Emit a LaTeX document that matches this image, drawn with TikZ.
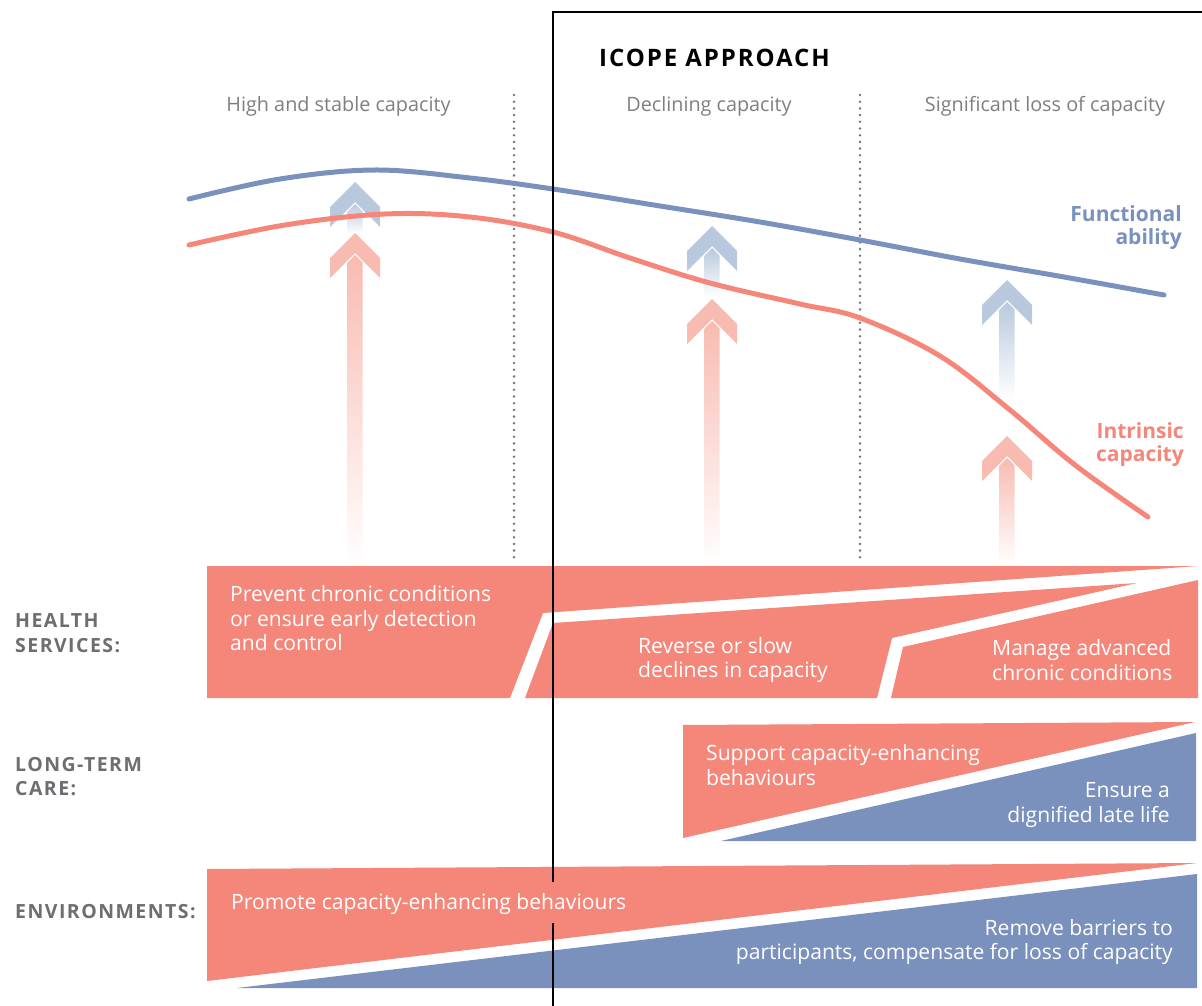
\documentclass[tikz,border=0pt]{standalone}
\usepackage{fontspec}
\setmainfont{Open Sans}
\definecolor{icred}{HTML}{F4877A}
\definecolor{icblue}{HTML}{7B91BD}
\definecolor{lred}{HTML}{F8BBB1}
\definecolor{lblue}{HTML}{B9C9DD}
\definecolor{lblgrey}{HTML}{6D6E71}
\definecolor{hdrgrey}{HTML}{7F7F7F}
\definecolor{dotgrey}{HTML}{777777}
\newcommand{\icarrow}[4]{%
  \shade[top color=#4, bottom color=white] (#1,#2+22) -- (#1+7.5,#2+29.5) -- (#1+7.5,#3) -- (#1-7.5,#3) -- (#1-7.5,#2+29.5) -- cycle;
  \fill[#4] (#1,#2) -- ++(25,25) -- ++(0,20) -- ++(-25,-25) -- ++(-25,25) -- ++(0,-20) -- cycle;
}
\tikzset{
  body/.style={font=\fontsize{21.1}{24}\selectfont, text=white, inner sep=0pt},
  hdr/.style={font=\fontsize{19.8}{24}\selectfont, text=hdrgrey, inner sep=0pt, anchor=base},
  lbl/.style={font=\fontsize{19.5}{24}\selectfont\bfseries\addfontfeatures{LetterSpace=7.5}, text=lblgrey, inner sep=0pt, anchor=base west},
  clbl/.style={font=\fontsize{21}{24}\selectfont\bfseries, inner sep=0pt, anchor=base east},
  curve/.style={line width=5pt, line cap=round},
  dots/.style={draw=dotgrey, line width=2.8pt, dash pattern=on 0pt off 6.7pt, line cap=round},
  frame/.style={draw=black, line width=2.5pt},
}
\begin{document}
\begin{tikzpicture}[x=1pt,y=-1pt]
\fill[white] (0,0) rectangle (1202,1006);
\useasboundingbox (0,0) rectangle (1202,1006);

% dotted phase separators
\draw[dots] (514,95) -- (514,563);
\draw[dots] (860,95) -- (860,563);

% headers
\node[hdr] (h1) at (338.5,112) {High and stable capacity};
\node[hdr] (h2) at (709,112) {Declining capacity};
\node[hdr] (h3) at (1045,112) {Significant loss of capacity};
\node[font=\fontsize{24}{28}\selectfont\bfseries\addfontfeatures{LetterSpace=8}, inner sep=0pt, anchor=base west] (icope) at (599,67) {ICOPE APPROACH};

% arrows
\icarrow{355}{182}{234}{lblue}
\icarrow{355}{233}{566}{lred}
\icarrow{712}{226}{297}{lblue}
\icarrow{712}{299}{566}{lred}
\icarrow{1007}{280}{400}{lblue}
\icarrow{1007}{436}{566}{lred}

% curves
\draw[curve, icblue] plot[smooth, tension=0.6] coordinates {(189,199) (280,179) (375,170) (470,178) (553,189) (660,206) (760,222) (860,240) (960,259) (1064,277) (1164,295)};
\draw[curve, icred] plot[smooth, tension=0.6] coordinates {(189,245) (285,225) (385,214) (470,217) (553,232) (630,258) (710,283) (800,304) (860,318) (940,356) (1010,410) (1075,465) (1148,517)};

\node[clbl, text=icblue] (fa1) at (1182,221) {Functional};
\node[clbl, text=icblue] (fa2) at (1182,244) {ability};
\node[clbl, text=icred] (ic1) at (1184,438) {Intrinsic};
\node[clbl, text=icred] (ic2) at (1184,461) {capacity};

% health services band
\fill[icred] (207,566) -- (1198,566) -- (543,613) -- (510,698) -- (207,698) -- cycle;
\fill[icred] (553,623) -- (1137,583) -- (892,638) -- (877,698) -- (525,698) -- cycle;
\fill[icred] (903,647) -- (1198,580) -- (1198,698) -- (891,698) -- cycle;

% long-term care band
\fill[icred] (683,725) -- (1195,722) -- (683,838) -- cycle;
\fill[icblue] (1196,733) -- (1196,841) -- (721,841) -- cycle;

% environments band
\fill[icred] (207,869) -- (1197,863) -- (207,981) -- cycle;
\fill[icblue] (1197,874) -- (1197,988) -- (237,988) -- cycle;

% frame
\draw[frame] (553,1006) -- (553,923);
\draw[frame] (553,882) -- (553,12) -- (1202,12);

% band texts
\node[body, anchor=base west] (p1) at (230,601) {Prevent chronic conditions};
\node[body, anchor=base west] (p2) at (230,626) {or ensure early detection};
\node[body, anchor=base west] (p3) at (230,650) {and control};
\node[body, anchor=base west] (r1) at (638,653) {Reverse or slow};
\node[body, anchor=base west] (r2) at (638,677) {declines in capacity};
\node[body, anchor=base west] (m1) at (992,655) {Manage advanced};
\node[body, anchor=base west] (m2) at (992,680) {chronic conditions};
\node[body, anchor=base west] (s1) at (706,760) {Support capacity-enhancing};
\node[body, anchor=base west] (s2) at (706,785) {behaviours};
\node[body, anchor=base east] (e1) at (1170,797) {Ensure a};
\node[body, anchor=base east] (e2) at (1170,822) {dignified late life};
\node[body, anchor=base west] (pr1) at (231,909) {Promote capacity-enhancing behaviours};
\node[body, anchor=base east] (rb1) at (1173,935) {Remove barriers to};
\node[body, anchor=base east] (rb2) at (1173,959) {participants, compensate for loss of capacity};

% left labels
\node[lbl] (hs1) at (15,627) {HEALTH};
\node[lbl] (hs2) at (15,652) {SERVICES:};
\node[lbl] (lt1) at (15,771) {LONG-TERM};
\node[lbl] (lt2) at (15,795) {CARE:};
\node[lbl] (en1) at (15,918) {ENVIRONMENTS:};
\end{tikzpicture}
\end{document}
